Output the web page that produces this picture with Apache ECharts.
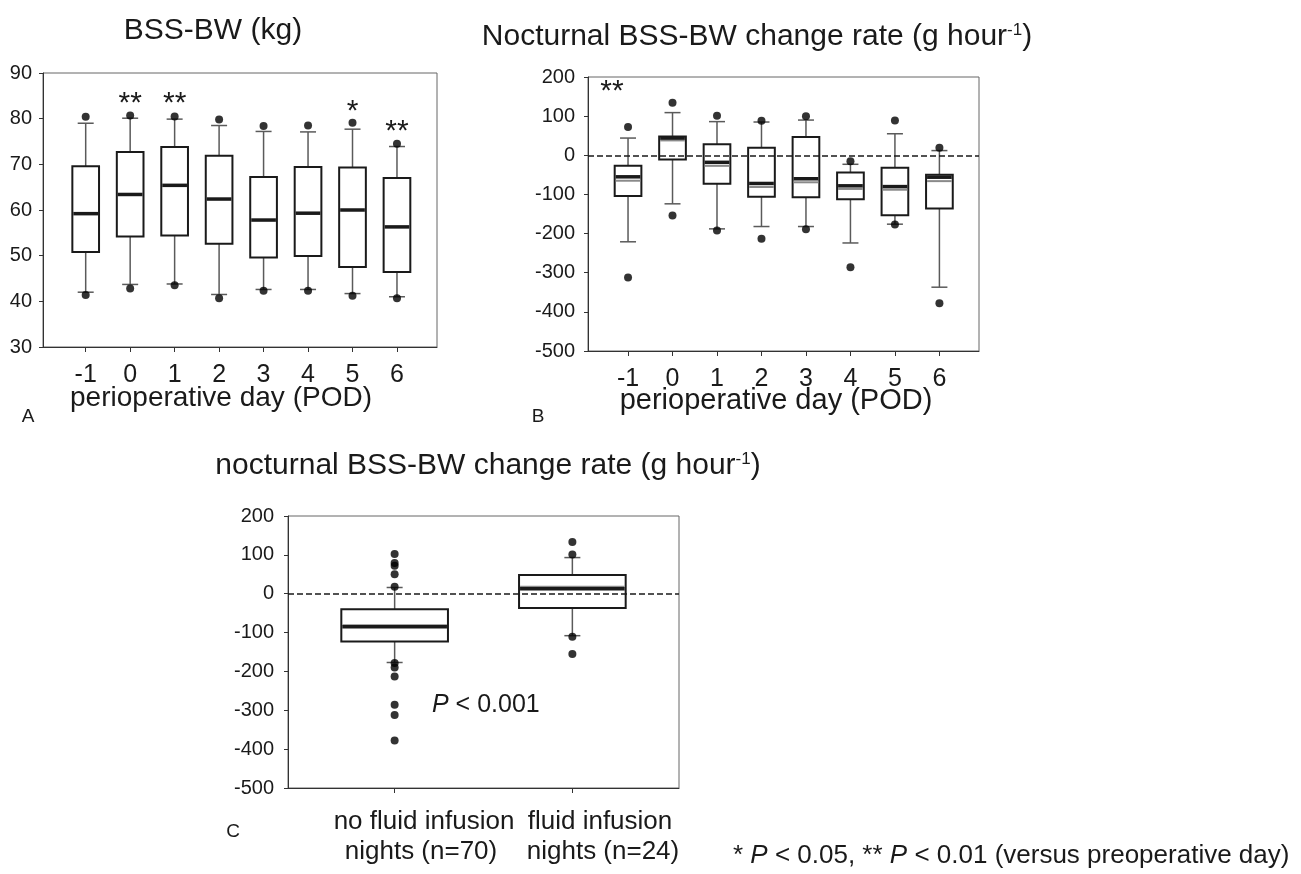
<!DOCTYPE html>
<html>
<head>
<meta charset="utf-8">
<script src="https://cdn.jsdelivr.net/npm/echarts@6/dist/echarts.min.js"></script>
<style>
  html, body { margin: 0; padding: 0; background: #fff; }
  #chart { width: 1301px; height: 874px; }
</style>
</head>
<body>
<div id="chart"></div>
<script>
// perioperative days (shared by A and B)
const days = [-1, 0, 1, 2, 3, 4, 5, 6]

// A: BSS-BW (kg)
const bwLow = [42.0, 43.7, 43.8, 41.5, 42.6, 42.6, 41.7, 41.0]
const bwQ1 = [50.8, 54.2, 54.4, 52.6, 49.6, 49.9, 47.5, 46.4]
const bwMedian = [59.2, 63.4, 65.4, 62.4, 57.8, 59.3, 60.0, 56.3]
const bwQ3 = [69.6, 72.7, 73.8, 71.9, 67.2, 69.4, 69.3, 67.0]
const bwHigh = [79.0, 80.1, 79.9, 78.5, 77.2, 77.1, 77.7, 73.9]
const bwOutHigh = [80.4, 80.7, 80.5, 79.8, 78.4, 78.5, 79.1, 74.5]
const bwOutLow = [41.4, 42.8, 43.5, 40.7, 42.3, 42.3, 41.2, 40.7]
const bwStars = ['', '**', '**', '', '', '', '*', '**']
const bwStarY = [0, 83.3, 83.3, 0, 0, 0, 81.6, 77.2]

// B: nocturnal BSS-BW change rate (g/hour) by day
const rateLow = [-221, -124, -188, -182, -182, -224, -176, -337]
const rateQ1 = [-104, -11, -73, -106, -107, -112, -153, -136]
const rateMedian = [-55, 44, -18, -72, -60, -78, -80, -56]
const rateMean = [-65, 38, -27, -81, -69, -86, -88, -66]
const rateQ3 = [-27, 48, 28, 19, 47, -44, -32, -50]
const rateHigh = [44, 109, 86, 85, 90, -23, 55, 12]
const rateOutHigh = [72, 134, 101, 88, 100, -15, 89, 19]
const rateOutLow = [-312, -154, -192, -213, -189, -286, -177, -378]

// C: no infusion vs infusion nights
const groups = ['no fluid infusion|nights (n=70)', 'fluid infusion|nights (n=24)']
const groupX = [1, 2]
const infLow = [-177, -108]
const infQ1 = [-123, -37]
const infMedian = [-85, 13]
const infMean = [-81, 18]
const infQ3 = [-40, 48]
const infHigh = [16, 93]
const noInfOutliers = [102, 79, 72, 50, 18, -178, -190, -213, -286, -312, -378]
const infOutliers = [133, 101, -111, -155]

const FONT = "'Liberation Sans', Arial, sans-serif"
const INK = '#1a1a1a'

const renderBox = (params, api) => {
  const x = api.value(0)
  const low = api.coord([x, api.value(1)])
  const q1 = api.coord([x, api.value(2)])
  const med = api.coord([x, api.value(3)])
  const q3 = api.coord([x, api.value(4)])
  const high = api.coord([x, api.value(5)])
  const meanV = api.value(6)
  const w = api.size([0.6, 0])[0]
  const cx = low[0]
  const cap = 8
  const wStyle = { stroke: '#5a5a5a', lineWidth: 1.5 }
  const children = [
    { type: 'line', shape: { x1: cx, y1: low[1], x2: cx, y2: q1[1] }, style: wStyle },
    { type: 'line', shape: { x1: cx, y1: q3[1], x2: cx, y2: high[1] }, style: wStyle },
    { type: 'line', shape: { x1: cx - cap, y1: low[1], x2: cx + cap, y2: low[1] }, style: wStyle },
    { type: 'line', shape: { x1: cx - cap, y1: high[1], x2: cx + cap, y2: high[1] }, style: wStyle },
    { type: 'rect', shape: { x: cx - w / 2, y: q3[1], width: w, height: q1[1] - q3[1] },
      style: { fill: '#fff', stroke: INK, lineWidth: 2 } }
  ]
  if (!isNaN(meanV)) {
    const m = api.coord([x, meanV])
    children.push({ type: 'line', shape: { x1: cx - w / 2 + 1, y1: m[1], x2: cx + w / 2 - 1, y2: m[1] },
      style: { stroke: '#8a8a8a', lineWidth: 2 } })
  }
  children.push({ type: 'line', shape: { x1: cx - w / 2 + 1, y1: med[1], x2: cx + w / 2 - 1, y2: med[1] },
    style: { stroke: INK, lineWidth: 3.5 } })
  return { type: 'group', children }
}

const renderStar = (params, api) => {
  const p = api.coord([api.value(0), api.value(1)])
  return { type: 'text', x: p[0], y: p[1],
    style: { text: api.value(2), font: '30px ' + FONT, fill: INK, align: 'center', verticalAlign: 'middle' } }
}

const xAxisBase = (gridIndex, min, max, ticks, fontSize) => ({
  gridIndex, type: 'value', min, max,
  splitLine: { show: false },
  axisLine: { onZero: false, lineStyle: { color: '#333', width: 1 } },
  axisTick: { customValues: ticks, length: 5, lineStyle: { color: '#333' } },
  axisLabel: { customValues: ticks, fontSize, color: INK, fontFamily: FONT, margin: 16 }
})
const yAxisBase = (gridIndex, min, max, interval, margin) => ({
  gridIndex, type: 'value', min, max, interval,
  splitLine: { show: false },
  axisLine: { show: true, onZero: false, lineStyle: { color: '#333', width: 1 } },
  axisTick: { show: true, length: 4, lineStyle: { color: '#333' } },
  axisLabel: { fontSize: 20, color: INK, fontFamily: FONT, margin }
})
const dash0 = {
  silent: true, symbol: ['none', 'none'], label: { show: false },
  lineStyle: { type: [6, 3], color: INK, width: 1.5 },
  data: [{ yAxis: 0 }]
}
const gridBase = { show: true, borderColor: '#666', borderWidth: 1, backgroundColor: 'transparent' }

const boxA = days.map((d, i) => [d, bwLow[i], bwQ1[i], bwMedian[i], bwQ3[i], bwHigh[i], null])
const boxB = days.map((d, i) => [d, rateLow[i], rateQ1[i], rateMedian[i], rateQ3[i], rateHigh[i], rateMean[i]])
const boxC = groupX.map((g, i) => [g, infLow[i], infQ1[i], infMedian[i], infQ3[i], infHigh[i], infMean[i]])
const outA = days.flatMap((d, i) => [[d, bwOutHigh[i]], [d, bwOutLow[i]]])
const outB = days.flatMap((d, i) => [[d, rateOutHigh[i]], [d, rateOutLow[i]]])
const outC = noInfOutliers.map(v => [1, v]).concat(infOutliers.map(v => [2, v]))
const starsA = days.map((d, i) => [d, bwStarY[i], bwStars[i]]).filter(s => s[2])
const starsB = [[-1.36, 163, '**']]

const textEl = (text, x, y, size, align, extra) => ({
  type: 'text', x, y,
  style: Object.assign({ text, fontSize: size, fontFamily: FONT, fill: INK, align: align || 'center', verticalAlign: 'middle' }, extra || {})
})
const supRich = { sup: { fontSize: 17, fontFamily: FONT, fill: INK, verticalAlign: 'top' } }
const itRich = size => ({ i: { fontStyle: 'italic', fontSize: size, fontFamily: FONT, fill: INK } })

const chart = echarts.init(document.getElementById('chart'))
const option = {
  animation: false,
  backgroundColor: '#fff',
  grid: [
    Object.assign({ left: 43, top: 73, width: 394, height: 274 }, gridBase),
    Object.assign({ left: 588, top: 77, width: 391, height: 274 }, gridBase),
    Object.assign({ left: 288, top: 516, width: 391, height: 272 }, gridBase)
  ],
  xAxis: [
    xAxisBase(0, -1.96, 6.9, days, 25),
    xAxisBase(1, -1.9, 6.89, days, 25),
    Object.assign(xAxisBase(2, 0.4, 2.6, groupX, 25), { axisLabel: { show: false } })
  ],
  yAxis: [
    yAxisBase(0, 30, 90, 10, 11),
    yAxisBase(1, -500, 200, 100, 13),
    yAxisBase(2, -500, 200, 100, 14)
  ],
  series: [
    { type: 'custom', xAxisIndex: 0, yAxisIndex: 0, renderItem: renderBox, data: boxA, encode: { x: 0, y: [1, 5] }, z: 2 },
    { type: 'scatter', xAxisIndex: 0, yAxisIndex: 0, data: outA, symbolSize: 8, itemStyle: { color: '#000' }, z: 3 },
    { type: 'custom', xAxisIndex: 0, yAxisIndex: 0, renderItem: renderStar, data: starsA, z: 4 },

    { type: 'custom', xAxisIndex: 1, yAxisIndex: 1, renderItem: renderBox, data: boxB, encode: { x: 0, y: [1, 5] }, z: 2 },
    { type: 'scatter', xAxisIndex: 1, yAxisIndex: 1, data: outB, symbolSize: 8, itemStyle: { color: '#000' }, z: 3, markLine: dash0 },
    { type: 'custom', xAxisIndex: 1, yAxisIndex: 1, renderItem: renderStar, data: starsB, z: 4 },

    { type: 'custom', xAxisIndex: 2, yAxisIndex: 2, renderItem: renderBox, data: boxC, encode: { x: 0, y: [1, 5] }, z: 2 },
    { type: 'scatter', xAxisIndex: 2, yAxisIndex: 2, data: outC, symbolSize: 8, itemStyle: { color: '#000' }, z: 3, markLine: dash0 }
  ],
  graphic: [
    textEl('BSS-BW (kg)', 213, 31, 30),
    textEl('Nocturnal BSS-BW change rate (g hour{sup|-1})', 757, 37, 30, 'center', { rich: supRich }),
    textEl('perioperative day (POD)', 221, 398, 28),
    textEl('perioperative day (POD)', 776, 401, 29),
    textEl('A', 28, 417, 19),
    textEl('B', 538, 417, 19),
    textEl('nocturnal BSS-BW change rate (g hour{sup|-1})', 488, 466, 30, 'center', { rich: supRich }),
    textEl('{i|P} < 0.001', 432, 705, 25, 'left', { rich: itRich(25) }),
    textEl(groups[0].split('|')[0], 424, 822, 26),
    textEl(groups[0].split('|')[1], 421, 852, 26),
    textEl(groups[1].split('|')[0], 600, 822, 26),
    textEl(groups[1].split('|')[1], 603, 852, 26),
    textEl('C', 233, 832, 19),
    textEl('* {i|P} < 0.05, ** {i|P} < 0.01 (versus preoperative day)', 733, 856, 26, 'left', { rich: itRich(26) })
  ]
}
chart.setOption(option)
</script>
</body>
</html>
